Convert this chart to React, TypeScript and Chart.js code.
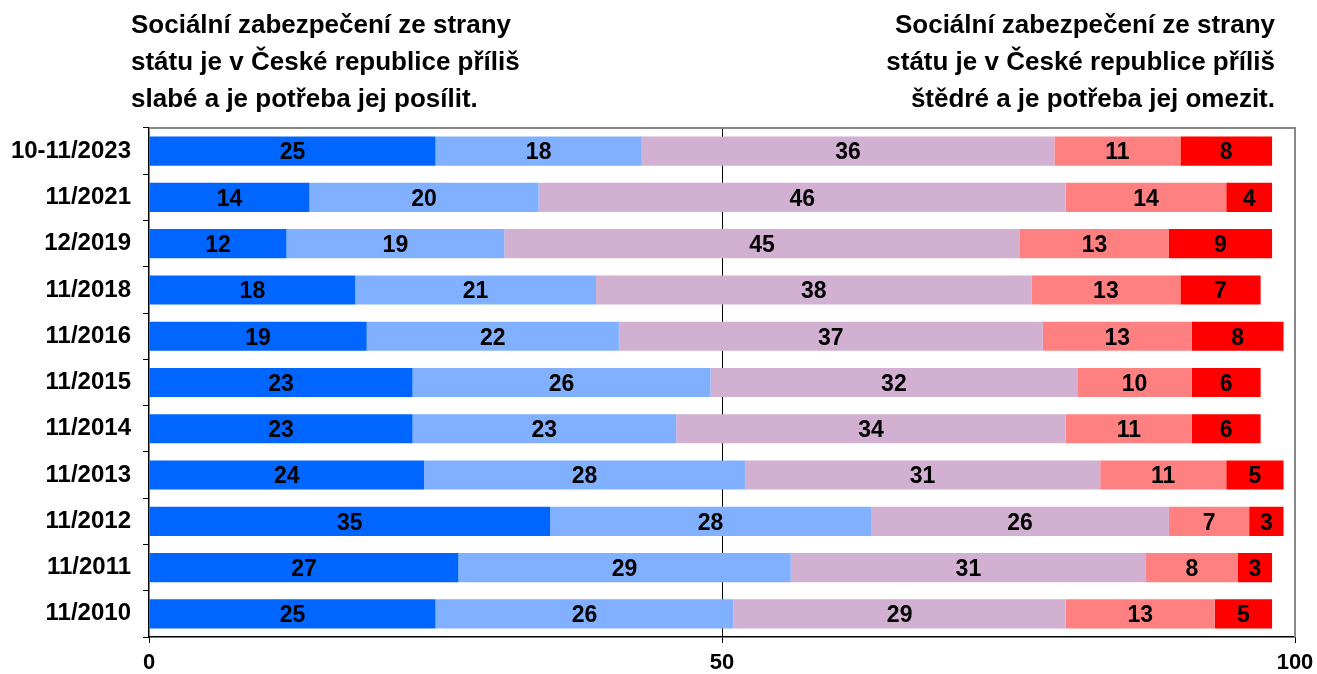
import React, { useEffect, useRef } from "react";
import { Chart, registerables } from "chart.js";

Chart.register(...registerables);

const categories = [
  "10-11/2023",
  "11/2021",
  "12/2019",
  "11/2018",
  "11/2016",
  "11/2015",
  "11/2014",
  "11/2013",
  "11/2012",
  "11/2011",
  "11/2010",
];

const series1 = [25, 14, 12, 18, 19, 23, 23, 24, 35, 27, 25];
const series2 = [18, 20, 19, 21, 22, 26, 23, 28, 28, 29, 26];
const series3 = [36, 46, 45, 38, 37, 32, 34, 31, 26, 31, 29];
const series4 = [11, 14, 13, 13, 13, 10, 11, 11, 7, 8, 13];
const series5 = [8, 4, 9, 7, 8, 6, 6, 5, 3, 3, 5];

const seriesColors = ["#0066FF", "#80B0FF", "#D2B0D2", "#FF8080", "#FF0000"];

const titleLeft = [
  "Sociální zabezpečení ze strany",
  "státu je v České republice příliš",
  "slabé a je potřeba jej posílit.",
];
const titleRight = [
  "Sociální zabezpečení ze strany",
  "státu je v České republice příliš",
  "štědré a je potřeba jej omezit.",
];

const FONT = "'Liberation Sans', Arial, sans-serif";

const valueLabels = {
  id: "valueLabels",
  afterDatasetsDraw(chart: any) {
    const ctx = chart.ctx;
    ctx.save();
    ctx.font = `bold 23px ${FONT}`;
    ctx.fillStyle = "#000";
    ctx.textAlign = "center";
    ctx.textBaseline = "middle";
    chart.data.datasets.forEach((ds: any, i: number) => {
      const meta = chart.getDatasetMeta(i);
      meta.data.forEach((el: any, j: number) => {
        const v = ds.data[j];
        const cx = (el.x + el.base) / 2;
        ctx.fillText(String(v), cx, el.y + 2);
      });
    });
    ctx.restore();
  },
};

const frame = {
  id: "frame",
  afterDraw(chart: any) {
    const { ctx, chartArea } = chart;
    ctx.save();
    ctx.strokeStyle = "#888888";
    ctx.lineWidth = 2;
    ctx.beginPath();
    ctx.moveTo(chartArea.left, chartArea.top);
    ctx.lineTo(chartArea.right, chartArea.top);
    ctx.lineTo(chartArea.right, chartArea.bottom);
    ctx.stroke();
    ctx.restore();
  },
};

export default function App() {
  const canvasRef = useRef<HTMLCanvasElement | null>(null);

  useEffect(() => {
    document.body.style.margin = "0";
    const all = [series1, series2, series3, series4, series5];
    const chart = new Chart(canvasRef.current as HTMLCanvasElement, {
      type: "bar",
      data: {
        labels: categories,
        datasets: all.map((d, i) => ({
          label: "s" + (i + 1),
          data: d,
          backgroundColor: seriesColors[i],
          borderWidth: 0,
          barPercentage: 0.63,
          categoryPercentage: 1,
        })),
      },
      options: {
        indexAxis: "y",
        animation: false,
        responsive: false,
        maintainAspectRatio: false,
        layout: { padding: { top: 128, right: 22, left: 0, bottom: 0 } },
        plugins: {
          legend: { display: false },
          tooltip: { enabled: false },
          title: { display: false },
        },
        scales: {
          x: {
            stacked: true,
            min: 0,
            max: 100,
            afterFit: (scale: any) => {
              scale.height = 37;
              scale.paddingRight = 0;
              scale.paddingLeft = 0;
            },
            ticks: {
              stepSize: 50,
              color: "#000",
              font: { family: FONT, size: 22, weight: "bold" },
              padding: 7,
              maxRotation: 0,
            },
            grid: {
              color: (c: any) =>
                c.tick && c.tick.value === 50 ? "#000" : c.tick && c.tick.value === 100 ? "#888888" : "rgba(0,0,0,0)",
              tickColor: "#000",
              tickLength: 6,
              lineWidth: 1,
            },
            border: { color: "#000", width: 1.5 },
          },
          y: {
            stacked: true,
            offset: true,
            afterFit: (scale: any) => {
              scale.width = 149;
            },
            ticks: {
              color: "#000",
              font: { family: FONT, size: 24, weight: "bold" },
              padding: 12,
            },
            grid: {
              offset: true,
              drawOnChartArea: false,
              tickColor: "#000",
              tickLength: 6,
            },
            border: { color: "#000", width: 1.5 },
          },
        },
      },
      plugins: [valueLabels, frame],
    } as any);
    return () => chart.destroy();
  }, []);

  const titleStyle: React.CSSProperties = {
    position: "absolute",
    top: 6,
    fontFamily: FONT,
    fontWeight: "bold",
    fontSize: 26,
    lineHeight: "37px",
    color: "#000",
    whiteSpace: "nowrap",
  };

  return (
    <div style={{ position: "relative", width: 1317, height: 674 }}>
      <canvas ref={canvasRef} width={1317} height={674} style={{ display: "block" }} />
      <div style={{ ...titleStyle, left: 131, textAlign: "left" }}>
        {titleLeft.map((t, i) => (
          <div key={i}>{t}</div>
        ))}
      </div>
      <div style={{ ...titleStyle, right: 1317 - 1275, textAlign: "right" }}>
        {titleRight.map((t, i) => (
          <div key={i}>{t}</div>
        ))}
      </div>
    </div>
  );
}
